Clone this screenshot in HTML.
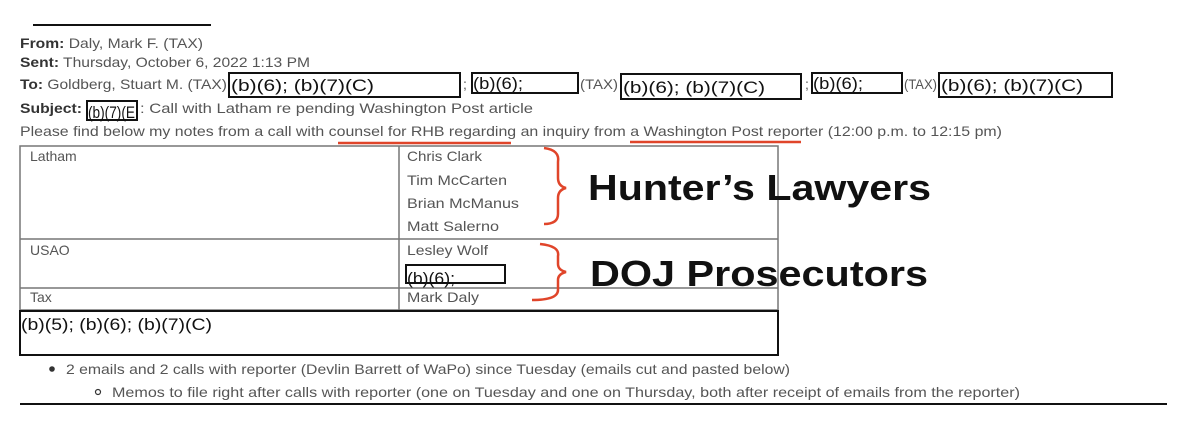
<!DOCTYPE html>
<html><head><meta charset="utf-8"><style>
html,body{margin:0;padding:0;background:#fff;width:1199px;height:431px;overflow:hidden}
svg{display:block}
.t{font-family:"Liberation Sans",sans-serif;font-size:14px;fill:#555}
.b{font-weight:bold;fill:#333}
.r{font-family:"Liberation Sans",sans-serif;font-size:17px;fill:#111}
.big{font-family:"Liberation Sans",sans-serif;font-weight:bold;font-size:36px;fill:#111}
</style></head><body>
<svg width="1199" height="431" xmlns="http://www.w3.org/2000/svg">
<line x1="33" y1="25" x2="211" y2="25" stroke="#111" stroke-width="2"/>
<text class="t" x="20" y="48" textLength="183" lengthAdjust="spacingAndGlyphs"><tspan class="b">From:</tspan> Daly, Mark F. (TAX)</text>
<text class="t" x="20" y="67" textLength="290" lengthAdjust="spacingAndGlyphs"><tspan class="b">Sent:</tspan> Thursday, October 6, 2022 1:13 PM</text>
<text class="t" x="20" y="89" textLength="207" lengthAdjust="spacingAndGlyphs"><tspan class="b">To:</tspan> Goldberg, Stuart M. (TAX)</text>
<g fill="none" stroke="#111" stroke-width="2">
<rect x="229" y="73" width="231" height="24"/>
<rect x="472" y="73" width="106" height="20"/>
<rect x="621" y="74" width="180" height="25"/>
<rect x="812" y="73" width="90" height="20"/>
<rect x="939" y="73" width="173" height="24"/>
<rect x="87" y="101" width="50" height="19"/>
<rect x="406" y="265" width="99" height="18"/>
</g>
<text class="r" x="231" y="91" textLength="143" lengthAdjust="spacingAndGlyphs">(b)(6);  (b)(7)(C)</text>
<text class="t" x="463" y="89">;</text>
<text class="r" x="473" y="89" textLength="50" lengthAdjust="spacingAndGlyphs">(b)(6);</text>
<text class="t" x="580" y="89" font-size="11" textLength="38" lengthAdjust="spacingAndGlyphs">(TAX)</text>
<text class="r" x="623" y="93" textLength="142" lengthAdjust="spacingAndGlyphs">(b)(6);  (b)(7)(C)</text>
<text class="t" x="805" y="89">;</text>
<text class="r" x="813" y="89" textLength="50" lengthAdjust="spacingAndGlyphs">(b)(6);</text>
<text class="t" x="904" y="89" font-size="11" textLength="33" lengthAdjust="spacingAndGlyphs">(TAX)</text>
<text class="r" x="941" y="91" textLength="142" lengthAdjust="spacingAndGlyphs">(b)(6);  (b)(7)(C)</text>
<text class="t b" x="20" y="113" textLength="62" lengthAdjust="spacingAndGlyphs">Subject:</text>
<text class="r" x="88" y="118" textLength="47" lengthAdjust="spacingAndGlyphs">(b)(7)(E</text>
<text class="t" x="140" y="113" textLength="393" lengthAdjust="spacingAndGlyphs">: Call with Latham re pending Washington Post article</text>
<text class="t" x="20" y="136" textLength="982" lengthAdjust="spacingAndGlyphs">Please find below my notes from a call with counsel for RHB regarding an inquiry from a Washington Post reporter (12:00 p.m. to 12:15 pm)</text>
<line x1="338" y1="143" x2="511" y2="143" stroke="#e0452a" stroke-width="2.5"/>
<line x1="630" y1="142" x2="801" y2="142" stroke="#e0452a" stroke-width="2.5"/>
<g stroke="#777" stroke-width="1.5" fill="none">
<rect x="20" y="146" width="758" height="164"/>
<line x1="399" y1="146" x2="399" y2="310"/>
<line x1="20" y1="239" x2="778" y2="239"/>
<line x1="20" y1="288" x2="778" y2="288"/>
</g>
<rect x="20" y="311" width="758" height="44" fill="none" stroke="#111" stroke-width="2"/>
<text class="r" x="21" y="330" textLength="191" lengthAdjust="spacingAndGlyphs">(b)(5);  (b)(6);  (b)(7)(C)</text>
<text x="30" y="161" class="t">Latham</text>
<text x="30" y="255" class="t">USAO</text>
<text x="30" y="302" class="t">Tax</text>
<text x="407" y="161" class="t" textLength="75" lengthAdjust="spacingAndGlyphs">Chris Clark</text>
<text x="407" y="185" class="t" textLength="100" lengthAdjust="spacingAndGlyphs">Tim McCarten</text>
<text x="407" y="208" class="t" textLength="112" lengthAdjust="spacingAndGlyphs">Brian McManus</text>
<text x="407" y="231" class="t" textLength="92" lengthAdjust="spacingAndGlyphs">Matt Salerno</text>
<text x="407" y="255" class="t" textLength="81" lengthAdjust="spacingAndGlyphs">Lesley Wolf</text>
<text x="407" y="302" class="t" textLength="72" lengthAdjust="spacingAndGlyphs">Mark Daly</text>
<text class="r" x="407" y="284" font-size="15" textLength="48" lengthAdjust="spacingAndGlyphs">(b)(6);</text>
<g stroke="#e0452a" stroke-width="2.5" fill="none">
<path d="M544 148 Q560 150 558 162 L558 178 Q558 186 566 188 Q558 190 558 198 L558 214 Q558 224 544 224"/>
<path d="M540 244 Q560 246 558 256 L558 264 Q558 270 566 272 Q558 274 558 280 L558 290 Q558 300 532 300"/>
</g>
<text class="big" x="588" y="200" textLength="343" lengthAdjust="spacingAndGlyphs">Hunter’s Lawyers</text>
<text class="big" x="590" y="286" textLength="338" lengthAdjust="spacingAndGlyphs">DOJ Prosecutors</text>
<circle cx="52" cy="369" r="2.8" fill="#333"/>
<text class="t" x="66" y="374" textLength="724" lengthAdjust="spacingAndGlyphs">2 emails and 2 calls with reporter (Devlin Barrett of WaPo) since Tuesday (emails cut and pasted below)</text>
<circle cx="98" cy="392" r="2.5" fill="none" stroke="#333" stroke-width="1.2"/>
<text class="t" x="112" y="397" textLength="908" lengthAdjust="spacingAndGlyphs">Memos to file right after calls with reporter (one on Tuesday and one on Thursday, both after receipt of emails from the reporter)</text>
<line x1="20" y1="404" x2="1167" y2="404" stroke="#111" stroke-width="2"/>
</svg>
</body></html>
